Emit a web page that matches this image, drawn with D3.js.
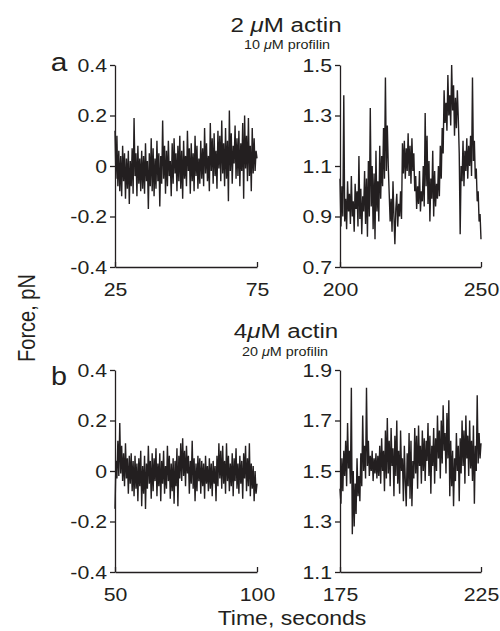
<!DOCTYPE html>
<html>
<head>
<meta charset="utf-8">
<script src="https://cdn.jsdelivr.net/npm/d3@7"></script>
<style>
  html, body { margin: 0; padding: 0; background: #fff; }
  svg text { font-family: "Liberation Sans", Arial, Helvetica, sans-serif; fill: #231f20; }
</style>
</head>
<body>
<div id="chart"></div>
<script>
// panel a, left: 2 uM actin, 25-75 s
const timeA1 = [25, 75];
const ticksA1 = [-0.4, -0.2, 0, 0.2, 0.4];
const forceA1 = [
  0.14, -0.05, 0.12, -0.08, 0.06, -0.10, 0.04, -0.12, 0.08, -0.06,
  0.05, -0.13, 0.03, -0.09, 0.06, -0.15, 0.02, -0.08, 0.07, -0.11,
  0.19, -0.04, 0.05, -0.12, 0.08, -0.07, 0.03, -0.10, 0.06, -0.09,
  0.04, -0.11, 0.09, -0.06, 0.02, -0.17, 0.05, -0.08, 0.11, -0.10,
  0.07, -0.12, 0.03, -0.09, 0.10, -0.06, 0.05, -0.16, 0.04, -0.07,
  0.18, -0.05, 0.08, -0.11, 0.06, -0.08, 0.10, -0.04, 0.02, -0.12,
  0.09, -0.07, 0.11, -0.03, 0.05, -0.10, 0.08, -0.06, 0.12, -0.09,
  0.06, -0.13, 0.10, -0.05, 0.04, -0.08, 0.14, -0.02, 0.07, -0.11,
  0.09, -0.06, 0.05, -0.10, 0.12, -0.04, 0.08, -0.09, 0.03, -0.07,
  0.10, -0.05, 0.07, -0.08, 0.15, -0.03, 0.09, -0.06, 0.04, -0.10,
  0.17, -0.02, 0.11, -0.07, 0.13, -0.04, 0.06, -0.09, 0.14, -0.01,
  0.12, -0.06, 0.18, -0.03, 0.09, -0.08, 0.15, -0.05, 0.10, -0.14,
  0.22, -0.02, 0.13, -0.07, 0.08, 0.01, 0.16, -0.05, 0.11, -0.04,
  0.14, -0.08, 0.09, -0.02, 0.17, -0.13, 0.20, -0.01, 0.12, -0.06,
  0.19, -0.04, 0.08, -0.10, 0.15, -0.03, 0.11, -0.02, 0.06, 0.03
];

// panel a, right: 200-250 s
const timeA2 = [200, 250];
const ticksA2 = [0.7, 0.9, 1.1, 1.3, 1.5];
const forceA2 = [
  1.05, 0.86, 1.02, 0.90, 1.38, 0.88, 0.97, 0.85, 1.04, 0.92,
  0.99, 0.87, 1.06, 0.90, 0.96, 0.84, 1.03, 0.93, 1.00, 0.86,
  1.14, 0.89, 1.01, 0.83, 0.98, 0.92, 1.08, 0.87, 1.05, 0.82,
  1.12, 0.90, 1.33, 0.94, 1.10, 0.85, 1.07, 0.81, 1.16, 0.92,
  1.04, 0.88, 1.18, 0.97, 1.14, 1.02, 1.25, 1.05, 1.45, 1.08,
  1.26, 1.10, 0.99, 0.88, 0.97, 0.84, 1.04, 0.90, 0.79, 0.93,
  0.99, 0.86, 0.95, 0.90, 1.00, 0.89, 1.19, 1.07, 1.20, 1.05,
  1.17, 1.08, 1.23, 1.06, 1.18, 1.03, 1.21, 1.08, 1.15, 1.00,
  1.06, 0.93, 1.02, 0.95, 1.08, 0.92, 1.00, 0.96, 1.10, 0.94,
  1.31, 1.02, 1.22, 0.95, 1.12, 0.88, 1.05, 0.97, 1.16, 0.90,
  1.08, 0.94, 1.03, 0.97, 1.10, 0.98, 1.18, 1.05, 1.25, 1.15,
  1.40, 1.27, 1.35, 1.24, 1.46, 1.30, 1.38, 1.26, 1.50, 1.32,
  1.42, 1.22, 1.37, 1.25, 1.40, 1.29, 1.15, 0.83, 1.10, 1.04,
  1.20, 1.02, 1.16, 1.08, 1.21, 1.05, 1.18, 1.10, 1.22, 1.06,
  1.45, 1.12, 1.20, 1.05, 1.09, 0.96, 1.00, 0.88, 0.91, 0.81
];

// panel b, left: 4 uM actin, 50-100 s
const timeB1 = [50, 100];
const ticksB1 = [-0.4, -0.2, 0, 0.2, 0.4];
const forceB1 = [
  -0.15, 0.04, -0.03, 0.12, -0.02, 0.19, -0.01, 0.10, -0.04, 0.07,
  -0.06, 0.11, -0.03, 0.05, -0.09, 0.06, -0.05, 0.07, -0.08, 0.04,
  -0.10, 0.06, -0.07, 0.03, -0.12, 0.05, -0.06, 0.08, -0.14, 0.02,
  -0.09, 0.06, -0.15, 0.03, -0.07, 0.10, -0.05, 0.04, -0.11, 0.07,
  -0.08, 0.05, -0.04, 0.09, -0.10, 0.03, -0.06, 0.07, -0.12, 0.04,
  -0.05, 0.08, -0.09, 0.02, -0.07, 0.10, -0.04, 0.06, -0.11, 0.03,
  -0.08, 0.05, -0.13, 0.04, -0.06, 0.09, -0.14, 0.06, -0.03, 0.11,
  -0.04, 0.13, -0.02, 0.08, -0.06, 0.10, -0.01, 0.06, -0.09, 0.04,
  -0.05, 0.12, -0.07, 0.05, -0.12, 0.03, -0.08, 0.06, -0.04, 0.05,
  -0.09, 0.04, -0.06, 0.03, -0.11, 0.06, -0.05, 0.02, -0.08, 0.05,
  -0.07, 0.03, -0.10, 0.04, -0.05, 0.02, -0.12, 0.06, -0.06, 0.11,
  -0.03, 0.08, -0.07, 0.10, -0.05, 0.04, -0.09, 0.11, -0.04, 0.06,
  -0.08, 0.03, -0.06, 0.07, -0.10, 0.05, -0.04, 0.09, -0.07, 0.03,
  -0.09, 0.06, -0.05, 0.04, -0.11, 0.07, -0.03, 0.10, -0.08, 0.05,
  -0.06, 0.11, -0.10, 0.03, -0.07, 0.02, -0.12, 0.00, -0.09, -0.05
];

// panel b, right: 175-225 s
const timeB2 = [175, 225];
const ticksB2 = [1.1, 1.3, 1.5, 1.7, 1.9];
const forceB2 = [
  1.43, 1.37, 1.55, 1.42, 1.58, 1.48, 1.62, 1.44, 1.69, 1.51,
  1.58, 1.45, 1.83, 1.25, 1.50, 1.28, 1.45, 1.33, 1.55, 1.40,
  1.48, 1.38, 1.57, 1.44, 1.72, 1.50, 1.60, 1.47, 1.83, 1.52,
  1.62, 1.48, 1.56, 1.50, 1.58, 1.46, 1.55, 1.49, 1.57, 1.47,
  1.56, 1.48, 1.60, 1.45, 1.63, 1.50, 1.58, 1.42, 1.66, 1.47,
  1.71, 1.49, 1.62, 1.44, 1.67, 1.52, 1.59, 1.40, 1.64, 1.48,
  1.70, 1.45, 1.58, 1.41, 1.66, 1.50, 1.55, 1.38, 1.60, 1.46,
  1.36, 1.57, 1.44, 1.65, 1.39, 1.62, 1.36, 1.54, 1.47, 1.67,
  1.49, 1.64, 1.43, 1.68, 1.52, 1.60, 1.45, 1.66, 1.50, 1.63,
  1.46, 1.62, 1.54, 1.69, 1.48, 1.64, 1.41, 1.60, 1.52, 1.67,
  1.45, 1.63, 1.50, 1.72, 1.55, 1.66, 1.47, 1.70, 1.53, 1.76,
  1.58, 1.65, 1.49, 1.73, 1.55, 1.78, 1.40, 1.62, 1.44, 1.58,
  1.36, 1.55, 1.46, 1.65, 1.50, 1.60, 1.38, 1.63, 1.49, 1.70,
  1.52, 1.66, 1.45, 1.72, 1.55, 1.64, 1.48, 1.70, 1.51, 1.62,
  1.46, 1.68, 1.37, 1.60, 1.50, 1.80, 1.53, 1.65, 1.55, 1.61
];

const chart = {
  width: 500,
  height: 631,
  stretch: 1.15,
  ink: '#231f20',

  init() {
    this.svg = d3.select('#chart').append('svg')
      .attr('width', this.width)
      .attr('height', this.height);

    const panels = [
      { time: timeA1, force: forceA1, ticks: ticksA1, left: 115, right: 257, top: 65, bottom: 267 },
      { time: timeA2, force: forceA2, ticks: ticksA2, left: 340, right: 481, top: 65, bottom: 267 },
      { time: timeB1, force: forceB1, ticks: ticksB1, left: 115, right: 257, top: 370, bottom: 572 },
      { time: timeB2, force: forceB2, ticks: ticksB2, left: 340, right: 481, top: 370, bottom: 572 }
    ];
    for (const p of panels) {
      this.drawPanel(p);
    }
    this.drawLabels();
  },

  drawPanel(p) {
    const x = d3.scaleLinear().domain(p.time).range([p.left, p.right]);
    const y = d3.scaleLinear().domain(d3.extent(p.ticks)).range([p.bottom, p.top]);
    // samples are evenly spaced over the recording window
    const sampleTime = d3.scaleLinear().domain([0, p.force.length - 1]).range(p.time);

    const line = d3.line()
      .x((d, i) => x(sampleTime(i)))
      .y((d) => y(d));

    this.svg.append('path')
      .datum(p.force)
      .attr('fill', 'none')
      .attr('stroke', this.ink)
      .attr('stroke-width', 1.4)
      .attr('stroke-linejoin', 'bevel')
      .attr('d', line);

    const yAxis = this.svg.append('g')
      .attr('transform', `translate(${p.left},0)`)
      .call(d3.axisLeft(y).tickValues(p.ticks).tickSize(5).tickSizeOuter(0).tickPadding(3)
        .tickFormat((d) => String(d)));

    const xAxis = this.svg.append('g')
      .attr('transform', `translate(0,${p.bottom})`)
      .call(d3.axisBottom(x).tickValues(p.time).tickSize(-5).tickSizeOuter(0)
        .tickFormat((d) => String(d)));

    for (const g of [xAxis, yAxis]) {
      g.select('.domain').attr('stroke', this.ink).attr('stroke-width', 1.3);
      g.selectAll('.tick line').attr('stroke', this.ink).attr('stroke-width', 1.3);
      g.selectAll('.tick text')
        .attr('fill', this.ink)
        .attr('font-size', 18.5)
        .attr('font-family', null);
    }

    yAxis.selectAll('.tick text')
      .attr('dy', '0.35em')
      .attr('x', -8 / this.stretch)
      .attr('transform', `scale(${this.stretch},1)`);

    xAxis.selectAll('.tick text')
      .attr('dy', null)
      .attr('y', 29)
      .attr('transform', `scale(${this.stretch},1)`);
  },

  addText(x, y, size, extra) {
    return this.svg.append('text')
      .attr('transform', `translate(${x},${y}) ${extra || `scale(${this.stretch},1)`}`)
      .attr('font-size', size)
      .attr('text-anchor', 'middle');
  },

  mu(t, before, after) {
    t.append('tspan').text(before);
    t.append('tspan').attr('font-style', 'italic').text('\u03bc');
    t.append('tspan').text(after);
  },

  drawLabels() {
    this.mu(this.addText(286, 32, 21), '2 ', 'M actin');
    this.mu(this.addText(287, 48.5, 12.5), '10 ', 'M profilin');
    this.mu(this.addText(286, 338, 21), '4', 'M actin');
    this.mu(this.addText(285, 355.5, 12.5), '20 ', 'M profilin');

    this.addText(59, 71, 26).text('a');
    this.addText(59, 385, 25).text('b');

    this.addText(292, 625, 20).text('Time, seconds');
    this.addText(35, 318, 20, `rotate(-90) scale(1,${this.stretch})`).text('Force, pN');
  }
};

chart.init();
</script>
</body>
</html>
